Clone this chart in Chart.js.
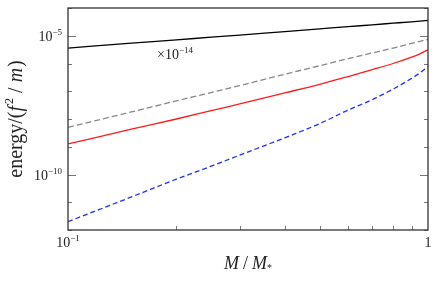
<!DOCTYPE html>
<html>
<head>
<meta charset="utf-8">
<script src="https://cdn.jsdelivr.net/npm/chart.js@4"></script>
<style>
  body { margin: 0; background: #fff; }
  #wrap { width: 436px; height: 285px; }
</style>
</head>
<body>
<div id="wrap"><canvas id="myChart"></canvas></div>
<script>
// M / M*  (x axis)
const massRatio = [0.1, 0.15, 0.2, 0.25, 0.3, 0.4, 0.5, 0.6, 0.7, 0.8, 0.9, 0.95, 1.0];
// black solid, shown x10^-14
const blackScaled = [3.6e-6, 5.4e-6, 7.1e-6, 8.9e-6, 1.06e-5, 1.42e-5, 1.77e-5, 2.12e-5, 2.48e-5, 2.83e-5, 3.18e-5, 3.36e-5, 3.55e-5];
// grey dashed
const greyDashed = [5.0e-9, 1.8e-8, 4.5e-8, 9.0e-8, 1.6e-7, 4.1e-7, 8.3e-7, 1.5e-6, 2.4e-6, 3.6e-6, 5.3e-6, 6.3e-6, 7.4e-6];
// red solid
const redSolid = [1.26e-9, 4.3e-9, 1.0e-8, 2.0e-8, 3.5e-8, 8.7e-8, 1.78e-7, 3.4e-7, 6.0e-7, 1.0e-6, 1.7e-6, 2.24e-6, 3.1e-6];
// blue dashed
const blueDashed = [2.0e-12, 1.55e-11, 6.8e-11, 2.0e-10, 5.0e-10, 2.1e-9, 6.8e-9, 2.1e-8, 5.0e-8, 1.2e-7, 2.9e-7, 4.6e-7, 7.8e-7];

const xTickValues = [0.1, 1];
const xTickLabels = [['10', '\u22121'], ['1', '']];
const yTickValues = [1e-10, 1e-5];
const yTickLabels = [['10', '\u221210'], ['10', '\u22125']];
const xMinorTicks = [0.2, 0.3, 0.4, 0.5, 0.6, 0.7, 0.8, 0.9];
const yDecades = [-12, -11, -10, -9, -8, -7, -6, -5, -4];

const serif = '"Liberation Serif", "DejaVu Serif", serif';

function pts(ys) {
  return massRatio.map((x, i) => ({ x: x, y: ys[i] }));
}

// draws a run of text pieces with different fonts / offsets
function richText(ctx, parts, x, y, align) {
  let total = 0;
  parts.forEach(p => { ctx.font = p.font; p.w = ctx.measureText(p.t).width + (p.gap || 0); total += p.w; });
  let cx = align === 'right' ? x - total : align === 'center' ? x - total / 2 : x;
  parts.forEach(p => {
    ctx.font = p.font;
    ctx.fillText(p.t, cx, y + (p.dy || 0));
    cx += p.w;
  });
}

const framePlugin = {
  id: 'frame',
  afterDraw(chart) {
    const ctx = chart.ctx;
    const a = chart.chartArea;
    const xs = chart.scales.x, ys = chart.scales.y;
    ctx.save();
    // ticks (inward)
    ctx.strokeStyle = '#777';
    ctx.lineWidth = 1;
    yDecades.forEach(e => {
      const py = Math.round(ys.getPixelForValue(Math.pow(10, e))) + 0.5;
      const len = (e % 5 === 0) ? 8 : 4;
      ctx.beginPath();
      ctx.moveTo(a.left, py); ctx.lineTo(a.left + len, py);
      ctx.moveTo(a.right, py); ctx.lineTo(a.right - len, py);
      ctx.stroke();
    });
    xMinorTicks.forEach(v => {
      const px = Math.round(xs.getPixelForValue(v)) + 0.5;
      ctx.beginPath();
      ctx.moveTo(px, a.bottom); ctx.lineTo(px, a.bottom - 4);
      ctx.stroke();
    });
    // frame
    ctx.strokeStyle = '#333';
    ctx.lineWidth = 1.3;
    ctx.strokeRect(a.left, a.top, a.right - a.left, a.bottom - a.top);

    ctx.fillStyle = '#222';
    ctx.textBaseline = 'alphabetic';
    const base = '14px ' + serif, sup = '9px ' + serif;
    yTickValues.forEach((v, i) => {
      const py = ys.getPixelForValue(v);
      richText(ctx, [{ t: yTickLabels[i][0], font: base }, { t: yTickLabels[i][1], font: sup, dy: -6 }], a.left - 6, py + 5, 'right');
    });
    xTickValues.forEach((v, i) => {
      const px = xs.getPixelForValue(v);
      const parts = [{ t: xTickLabels[i][0], font: base }];
      if (xTickLabels[i][1]) parts.push({ t: xTickLabels[i][1], font: sup, dy: -6 });
      richText(ctx, parts, px, a.bottom + 17, 'center');
    });

    // x axis title
    const it = 'italic 18px ' + serif, rm = '18px ' + serif;
    richText(ctx, [
      { t: 'M', font: it, gap: 4 },
      { t: '/', font: rm, gap: 4 },
      { t: 'M', font: it },
      { t: '*', font: '10px ' + serif, dy: 2 }
    ], (a.left + a.right) / 2, 269, 'center');

    // y axis title
    ctx.save();
    ctx.translate(22, (a.top + a.bottom) / 2);
    ctx.rotate(-Math.PI / 2);
    const yt = '20px ' + serif, yti = 'italic 20px ' + serif;
    richText(ctx, [
      { t: 'energy/(', font: yt },
      { t: 'f', font: yti, gap: 2 },
      { t: '2', font: '12px ' + serif, dy: -9, gap: 5 },
      { t: '/', font: yt, gap: 5 },
      { t: 'm', font: yti, gap: 1 },
      { t: ')', font: yt }
    ], 0, 0, 'center');
    ctx.restore();

    // scale annotation for the black curve
    richText(ctx, [
      { t: '\u00d710', font: '14px ' + serif },
      { t: '\u221214', font: '9px ' + serif, dy: -6 }
    ], 157, 59, 'left');
    ctx.restore();
  }
};

const line = (label, ys, color, dash) => ({
  label: label,
  data: pts(ys),
  borderColor: color,
  borderWidth: 1.3,
  borderDash: dash,
  pointRadius: 0,
  cubicInterpolationMode: 'monotone',
  fill: false
});

const config = {
  type: 'line',
  data: {
    datasets: [
      line('black x1e-14', blackScaled, '#000', []),
      line('grey dashed', greyDashed, '#888', [6, 3]),
      line('red', redSolid, '#ff1a1a', []),
      line('blue dashed', blueDashed, '#1f2fff', [5, 3])
    ]
  },
  options: {
    responsive: true,
    maintainAspectRatio: false,
    animation: false,
    layout: { padding: { left: 68, right: 8, top: 8, bottom: 55 } },
    plugins: { legend: { display: false }, tooltip: { enabled: false } },
    scales: {
      x: { type: 'logarithmic', min: 0.1, max: 1, display: false },
      y: { type: 'logarithmic', min: 1e-12, max: 1e-4, display: false }
    }
  },
  plugins: [framePlugin]
};

const ctx = document.getElementById('myChart').getContext('2d');
const myChart = new Chart(ctx, config);
</script>
</body>
</html>
